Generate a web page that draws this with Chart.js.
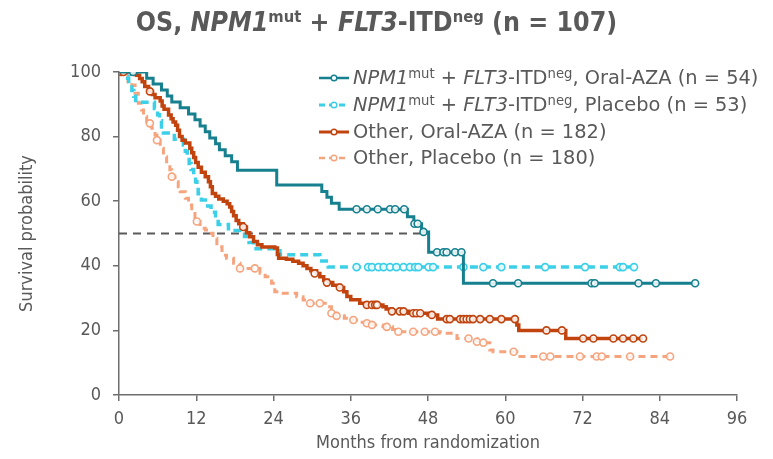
<!DOCTYPE html>
<html><head><meta charset="utf-8">
<script src="https://cdn.jsdelivr.net/npm/chart.js@4.4.0/dist/chart.umd.min.js"></script>
<style>
html,body{margin:0;padding:0;background:#fff;}
#wrap{position:relative;width:773px;height:459px;overflow:hidden;background:#fff;}
#c{position:absolute;left:0;top:0;}
#title{position:absolute;left:-10px;top:6px;width:773px;text-align:center;font-family:"DejaVu Sans Condensed","DejaVu Sans";font-weight:700;font-size:26.5px;color:#595959;white-space:nowrap;}
#title sup{font-size:0.62em;vertical-align:0.55em;line-height:0;}
.lg{position:absolute;left:318px;font-family:"DejaVu Sans";font-size:19.4px;color:#595959;white-space:nowrap;height:26px;line-height:26px;}
.lg svg{position:absolute;left:0;top:6px;}
.lg span.t{position:absolute;left:35px;top:0;}
.lg sup{font-size:0.68em;vertical-align:0.45em;line-height:0;}
</style></head>
<body><div id="wrap">
<canvas id="c" width="773" height="459"></canvas>
<div id="title">OS, <i>NPM1</i><sup>mut</sup> + <i>FLT3</i>-ITD<sup>neg</sup> (n = 107)</div>
<div id="legend"></div>
</div>
<script>
// ---- Data (months, survival %) ----
const xTicks = [0, 12, 24, 36, 48, 60, 72, 84, 96];
const yTicks = [0, 20, 40, 60, 80, 100];

const seriesNames = [
  '<i>NPM1</i><sup>mut</sup> + <i>FLT3</i>-ITD<sup>neg</sup>, Oral-AZA (n = 54)',
  '<i>NPM1</i><sup>mut</sup> + <i>FLT3</i>-ITD<sup>neg</sup>, Placebo (n = 53)',
  'Other, Oral-AZA (n = 182)',
  'Other, Placebo (n = 180)'
];

// NPM1mut + FLT3-ITDneg, Oral-AZA
const npmAzaTime = [0,4.3,5.3,6.6,7.5,8.2,9.5,10.8,11.8,12.6,13.4,14.1,15.0,15.6,16.5,17.5,18.4,24.5,31.5,32.3,33.0,34.2,44.8,45.8,47.0,48.1,53.5,89.5];
const npmAzaSurv = [100,98.1,96.3,94.4,92.6,90.7,88.9,87.0,85.2,83.3,81.5,79.6,77.8,75.9,74.1,72.2,69.6,65.0,63.0,61.2,59.4,57.5,55.2,53.0,50.5,44.2,34.6,34.6];
const npmAzaCensTime = [2.2,36.9,38.5,40.2,42.1,42.9,44.3,45.9,46.4,47.3,49.4,50.4,50.9,52.2,53.2,58.1,62.0,73.4,73.9,80.7,83.4,89.5];
const npmAzaCensSurv = [100,57.5,57.5,57.5,57.5,57.5,57.5,53.0,53.0,50.5,44.2,44.2,44.2,44.2,44.2,34.6,34.6,34.6,34.6,34.6,34.6,34.6];

// NPM1mut + FLT3-ITDneg, Placebo
const npmPboTime = [0,1.0,1.5,2.0,2.3,2.6,5.5,6.0,6.3,6.6,6.9,8.6,10.0,10.3,10.6,10.9,11.2,11.6,11.9,12.1,12.3,12.8,13.4,14.3,15.0,15.4,17.0,19.5,20.2,20.9,25.0,31.2,32.5,80.0];
const npmPboSurv = [100,98.1,96.2,94.3,92.5,90.6,88.7,86.8,84.9,83.0,81.1,79.2,77.4,75.5,73.6,71.7,69.8,67.9,66.0,64.2,62.3,60.4,58.5,56.6,54.7,52.8,50.9,49.1,47.2,45.3,43.4,41.5,39.6,39.6];
const npmPboCensTime = [1.7,36.9,38.7,39.3,40.3,41.1,42.1,43.1,44.2,45.2,46.0,46.5,48.1,48.8,53.5,56.6,59.4,66.2,72.4,77.8,78.3,80.0];
const npmPboCensSurv = [100,39.6,39.6,39.6,39.6,39.6,39.6,39.6,39.6,39.6,39.6,39.6,39.6,39.6,39.6,39.6,39.6,39.6,39.6,39.6,39.6,39.6];

// Other, Oral-AZA
const othAzaTime = [0,0.8,2.0,2.7,3.2,3.6,4.0,4.6,5.2,5.6,6.4,6.7,7.0,7.7,8.1,8.4,8.8,9.1,9.4,9.8,10.3,11.0,11.3,11.6,11.9,12.3,12.8,13.4,13.9,14.2,14.5,15.0,15.5,16.2,16.8,17.2,17.5,17.8,18.2,18.6,19.3,19.8,20.3,20.9,21.5,22.2,24.2,24.6,24.8,26.0,27.0,27.9,28.6,29.2,29.8,30.7,31.2,31.8,32.5,33.2,34.3,34.9,35.4,36.0,37.4,38.3,41.0,41.5,42.4,45.0,48.0,49.5,61.8,62.1,69.4,81.4];
const othAzaSurv = [100,100,99.5,99.0,98.0,97.0,95.5,94.0,93.0,92.0,91.0,89.5,88.5,86.7,85.5,84.5,83.5,82.0,80.0,78.9,78.0,76.4,75.0,73.5,72.0,70.5,69.0,67.6,66.0,64.5,62.4,61.5,60.7,60.0,59.2,58.2,56.8,55.5,54.0,53.0,52.0,50.2,49.0,47.5,46.5,45.8,45.5,43.5,42.3,42.0,41.4,40.8,40.0,39.2,38.5,37.6,36.6,35.5,34.8,34.0,33.3,32.0,30.5,29.5,28.4,27.9,27.3,26.6,25.9,25.3,24.8,23.5,21.7,20.0,17.5,17.5];
const othAzaCensTime = [0.3,0.7,4.8,19.3,30.4,32.3,34.3,38.5,39.3,39.8,40.1,42.4,43.6,44.2,45.7,46.2,46.8,48.6,50.9,51.4,53.0,53.5,54.0,54.5,55.0,56.1,57.6,59.4,61.5,66.4,68.8,72.1,73.7,76.8,78.3,79.9,81.4];
const othAzaCensSurv = [100,100,94.0,52.0,37.6,34.8,33.3,27.9,27.9,27.9,27.9,25.9,25.9,25.9,25.3,25.3,25.3,24.8,23.5,23.5,23.5,23.5,23.5,23.5,23.5,23.5,23.5,23.5,23.5,20.0,20.0,17.5,17.5,17.5,17.5,17.5,17.5];

// Other, Placebo
const othPboTime = [0,0.5,0.9,1.4,2.0,2.5,3.0,3.5,3.8,4.3,5.1,5.6,5.9,6.4,6.9,7.4,7.9,8.2,8.7,9.2,9.5,10.3,10.8,11.3,11.8,12.6,13.4,14.1,14.6,15.2,16.0,16.7,17.8,18.8,21.9,22.7,23.7,24.2,25.0,27.6,28.6,29.7,32.3,33.0,33.8,35.0,36.4,37.5,38.5,39.3,41.0,42.5,43.4,49.9,52.5,55.6,56.6,57.6,58.1,61.8,85.6];
const othPboSurv = [100,100,99.1,97.0,96.0,93.4,90.3,88.2,86.2,84.1,82.6,80.5,78.9,76.4,73.8,71.7,69.7,67.6,66.0,64.5,62.9,60.9,58.8,56.7,53.7,51.6,51.1,50.1,48.5,45.9,43.3,42.3,40.8,39.2,37.7,36.6,34.6,32.0,31.5,30.4,29.4,28.4,27.3,25.3,24.5,23.8,23.2,22.5,22.2,21.7,21.1,20.3,19.6,19.1,17.5,16.5,16.2,13.9,13.4,11.9,11.9];
const othPboCensTime = [4.8,5.9,8.2,12.1,18.8,21.1,29.7,31.2,33.0,33.8,36.4,38.5,39.3,41.6,43.4,45.7,47.5,49.1,54.3,55.6,56.6,61.3,65.9,67.0,71.6,74.2,75.0,79.4,85.6];
const othPboCensSurv = [84.1,78.9,67.6,53.7,39.2,39.2,28.4,28.4,25.3,24.5,23.2,22.2,21.7,21.1,19.6,19.6,19.6,19.6,17.5,16.5,16.2,13.4,11.9,11.9,11.9,11.9,11.9,11.9,11.9];

// Median reference line
const medianLineX = [0, 47.5];
const medianLineY = [50, 50];

// ---- Styles ----
const colors = ['#16808f', '#3ccfe8', '#c1440e', '#f6a47e'];
const widths = [3, 3.5, 3.5, 3];
const dashes = [[], [8, 5], [], [7, 5]];

const toXY = (xs, ys) => xs.map((x, i) => ({x: x, y: ys[i]}));
const series = [
  [npmAzaTime, npmAzaSurv, npmAzaCensTime, npmAzaCensSurv],
  [npmPboTime, npmPboSurv, npmPboCensTime, npmPboCensSurv],
  [othAzaTime, othAzaSurv, othAzaCensTime, othAzaCensSurv],
  [othPboTime, othPboSurv, othPboCensTime, othPboCensSurv]
];
const drawOrder = [3, 1, 2, 0];
const datasets = [];
datasets.push({
  type: 'line', data: toXY(medianLineX, medianLineY), borderColor: '#5a5a5a',
  borderWidth: 1.8, borderDash: [8, 6], pointRadius: 0, fill: false, order: 10
});
drawOrder.forEach((k, j) => {
  const s = series[k];
  datasets.push({
    type: 'line', data: toXY(s[0], s[1]), stepped: true, borderColor: colors[k],
    borderWidth: widths[k], borderDash: dashes[k], pointRadius: 0, fill: false,
    order: 8 - j * 2
  });
  datasets.push({
    type: 'scatter', data: toXY(s[2], s[3]), showLine: false, pointStyle: 'circle',
    pointRadius: 3.5, pointBorderWidth: 1.6, borderColor: colors[k],
    backgroundColor: 'rgba(255,255,255,0.85)', order: 7 - j * 2
  });
});

const tickFont = {family: '"DejaVu Sans Condensed", "DejaVu Sans"', size: 18};
const axisColor = '#6e6e6e';
new Chart(document.getElementById('c'), {
  type: 'line',
  data: {datasets: datasets},
  options: {
    responsive: false, animation: false,
    layout: {padding: {left: 17, right: 36, top: 72, bottom: 5}},
    plugins: {legend: {display: false}, tooltip: {enabled: false}, title: {display: false}},
    scales: {
      x: {
        type: 'linear', min: 0, max: 96,
        afterBuildTicks: (ax) => { ax.ticks = xTicks.map(v => ({value: v})); },
        afterFit: (ax) => { ax.height = 59; },
        ticks: {color: '#595959', font: tickFont, padding: 8, maxRotation: 0},
        grid: {display: true, drawOnChartArea: false, drawTicks: true, tickLength: 6, color: axisColor, lineWidth: 1.5},
        border: {display: true, color: axisColor, width: 1.5},
        title: {display: true, text: 'Months from randomization', color: '#595959', font: tickFont, padding: {top: 0, bottom: 0}}
      },
      y: {
        type: 'linear', min: 0, max: 100,
        afterBuildTicks: (ax) => { ax.ticks = yTicks.map(v => ({value: v})); },
        afterFit: (ax) => { ax.width = 102; },
        ticks: {color: '#595959', font: tickFont, padding: 12},
        grid: {display: true, drawOnChartArea: false, drawTicks: true, tickLength: 6, color: axisColor, lineWidth: 1.5},
        border: {display: true, color: axisColor, width: 1.5},
        title: {display: true, text: 'Survival probability', color: '#595959', font: tickFont, padding: {top: 0, bottom: 0}}
      }
    }
  }
});

// ---- HTML legend (italic / superscript text) ----
const legendTops = [65, 92, 119, 145];
const lg = document.getElementById('legend');
seriesNames.forEach((name, k) => {
  const d = document.createElement('div');
  d.className = 'lg';
  d.style.top = legendTops[k] + 'px';
  const dash = dashes[k].length ? 'stroke-dasharray="6 4"' : '';
  d.innerHTML = '<svg width="32" height="14"><line x1="1" y1="7" x2="31" y2="7" stroke="' + colors[k] +
    '" stroke-width="' + (widths[k] - 0.5) + '" ' + dash + '/><circle cx="16" cy="7" r="2.8" fill="#fff" stroke="' +
    colors[k] + '" stroke-width="1.4"/></svg><span class="t">' + name + '</span>';
  lg.appendChild(d);
});
</script>
</body></html>
